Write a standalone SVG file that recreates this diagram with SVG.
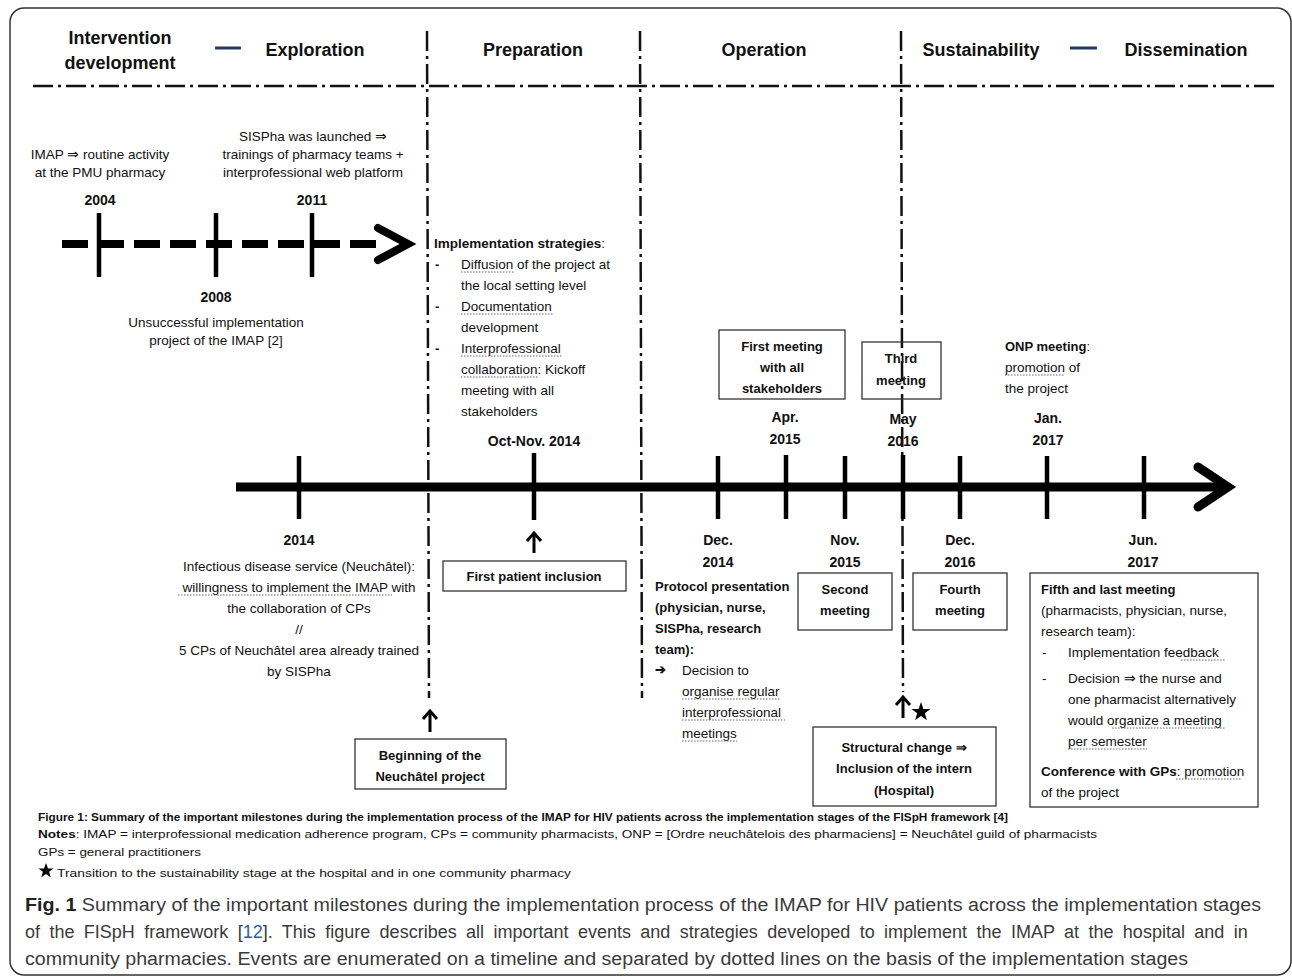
<svg xmlns="http://www.w3.org/2000/svg" width="1292" height="977" viewBox="0 0 1292 977">
<defs>
<style>
text{font-family:"Liberation Sans",Arial,sans-serif;fill:#111}
.h{font-size:18px;font-weight:bold}
.r{font-size:13.5px}
.b{font-size:13px;font-weight:bold}
.y{font-size:14px;font-weight:bold}
.c{text-anchor:middle}
.box{fill:#fff;stroke:#333;stroke-width:1.3}
.dd{fill:none;stroke:#111;stroke-width:2.5;stroke-dasharray:20 5 3 5}
.ul{stroke:#666;stroke-width:1;stroke-dasharray:1.5 1.5}
.tick{stroke:#000;stroke-width:4.5}
.arr{fill:none;stroke:#000;stroke-width:3}
.ft{font-size:11px}
.cap{font-size:18px;fill:#3a3a3a}
</style>
</defs>
<rect x="10" y="8" width="1281" height="967" rx="14" fill="#fff" stroke="#333" stroke-width="1.5"/>

<g id="header">
<text class="h c" x="120" y="44">Intervention</text>
<text class="h c" x="120" y="69">development</text>
<line x1="215" y1="48" x2="241" y2="48" stroke="#1f3864" stroke-width="3"/>
<text class="h c" x="315" y="56">Exploration</text>
<text class="h c" x="533" y="56">Preparation</text>
<text class="h c" x="764" y="56">Operation</text>
<text class="h c" x="981" y="56">Sustainability</text>
<line x1="1070" y1="48" x2="1097" y2="48" stroke="#1f3864" stroke-width="3"/>
<text class="h c" x="1186" y="56">Dissemination</text>
</g>

<g id="connectors">
<line class="dd" x1="33" y1="86" x2="1276" y2="86" stroke-width="2"/>
<line class="dd" x1="427" y1="31" x2="429" y2="698"/>
<line class="dd" x1="640" y1="31" x2="642" y2="698"/>
<line class="dd" x1="901" y1="31" x2="903" y2="692"/>
<!-- upper dashed timeline -->
<line x1="62" y1="244" x2="378" y2="244" stroke="#000" stroke-width="8" stroke-dasharray="26 10"/>
<polyline points="378,228 408,244 378,260" fill="none" stroke="#000" stroke-width="8" stroke-linecap="round" stroke-linejoin="miter"/>
<line class="tick" x1="99" y1="213" x2="99" y2="277"/>
<line class="tick" x1="216" y1="213" x2="216" y2="277"/>
<line class="tick" x1="312" y1="213" x2="312" y2="277"/>
<!-- main timeline -->
<line x1="236" y1="487" x2="1226" y2="487" stroke="#000" stroke-width="9"/>
<polyline points="1198,467 1228,487 1198,507" fill="none" stroke="#000" stroke-width="9" stroke-linecap="round"/>
<line class="tick" x1="299" y1="456" x2="299" y2="519"/>
<line class="tick" x1="534" y1="453" x2="534" y2="520"/>
<line class="tick" x1="718" y1="456" x2="718" y2="519"/>
<line class="tick" x1="786" y1="455" x2="786" y2="519"/>
<line class="tick" x1="845" y1="456" x2="845" y2="519"/>
<line class="tick" x1="903" y1="455" x2="903" y2="519"/>
<line class="tick" x1="960" y1="456" x2="960" y2="519"/>
<line class="tick" x1="1047" y1="456" x2="1047" y2="519"/>
<line class="tick" x1="1144" y1="456" x2="1144" y2="519"/>
<!-- up arrows -->
<line class="arr" x1="534" y1="553" x2="534" y2="534"/>
<polyline class="arr" points="527,541 534,533 541,541"/>
<line class="arr" x1="430" y1="732" x2="430" y2="712"/>
<polyline class="arr" points="423,719 430,711 437,719"/>
<line class="arr" x1="903" y1="718" x2="903" y2="698"/>
<polyline class="arr" points="896,705 903,697 910,705"/>
</g>

<g id="n2004">
<text class="r c" x="100" y="159">IMAP ⇒ routine activity</text>
<text class="r c" x="100" y="177">at the PMU pharmacy</text>
<text class="y c" x="100" y="205">2004</text>
</g>
<g id="n2011">
<text class="r c" x="313" y="141">SISPha was launched ⇒</text>
<text class="r c" x="313" y="159">trainings of pharmacy teams +</text>
<text class="r c" x="313" y="177">interprofessional web platform</text>
<text class="y c" x="312" y="205">2011</text>
</g>
<g id="n2008">
<text class="y c" x="216" y="302">2008</text>
<text class="r c" x="216" y="327">Unsuccessful implementation</text>
<text class="r c" x="216" y="345">project of the IMAP [2]</text>
</g>

<g id="strategies">
<text class="r" x="434" y="248"><tspan font-weight="bold">Implementation strategies</tspan>:</text>
<text class="b" x="435" y="269">-</text>
<text class="r" x="461" y="269">Diffusion of the project at</text>
<line class="ul" x1="461" y1="272" x2="514" y2="272"/>
<text class="r" x="461" y="290">the local setting level</text>
<text class="b" x="435" y="311">-</text>
<text class="r" x="461" y="311">Documentation</text>
<line class="ul" x1="461" y1="314" x2="553" y2="314"/>
<text class="r" x="461" y="332">development</text>
<text class="b" x="435" y="353">-</text>
<text class="r" x="461" y="353">Interprofessional</text>
<line class="ul" x1="461" y1="356" x2="562" y2="356"/>
<text class="r" x="461" y="374">collaboration: Kickoff</text>
<line class="ul" x1="461" y1="377" x2="538" y2="377"/>
<text class="r" x="461" y="395">meeting with all</text>
<text class="r" x="461" y="416">stakeholders</text>
<text class="y c" x="534" y="446">Oct-Nov. 2014</text>
</g>

<g id="firstMeeting">
<rect class="box" x="719" y="330" width="126" height="69"/>
<text class="b c" x="782" y="351">First meeting</text>
<text class="b c" x="782" y="372">with all</text>
<text class="b c" x="782" y="393">stakeholders</text>
<text class="y c" x="785" y="422">Apr.</text>
<text class="y c" x="785" y="444">2015</text>
</g>
<g id="thirdMeeting">
<rect class="box" x="862" y="342" width="79" height="57" style="fill:none"/>
<text class="b c" x="901" y="363">Third</text>
<text class="b c" x="901" y="385">meeting</text>
<text class="y c" x="903" y="424">May</text>
<text class="y c" x="903" y="446">2016</text>
</g>
<g id="onp">
<text class="b" x="1005" y="351">ONP meeting<tspan font-weight="normal">:</tspan></text>
<text class="r" x="1005" y="372">promotion of</text>
<line class="ul" x1="1005" y1="375" x2="1065" y2="375"/>
<text class="r" x="1005" y="393">the project</text>
<text class="y c" x="1048" y="423">Jan.</text>
<text class="y c" x="1048" y="445">2017</text>
</g>

<g id="n2014">
<text class="y c" x="299" y="545">2014</text>
<text class="r c" x="299" y="571">Infectious disease service (Neuchâtel):</text>
<text class="r c" x="299" y="592">willingness to implement the IMAP with</text>
<line class="ul" x1="178" y1="595" x2="392" y2="595"/>
<text class="r c" x="299" y="613">the collaboration of CPs</text>
<text class="r c" x="299" y="634">//</text>
<text class="r c" x="299" y="655">5 CPs of Neuchâtel area already trained</text>
<text class="r c" x="299" y="676">by SISPha</text>
</g>

<g id="firstPatient">
<rect class="box" x="443" y="561" width="183" height="30"/>
<text class="b c" x="534" y="581">First patient inclusion</text>
</g>

<g id="beginning">
<rect class="box" x="355" y="739" width="151" height="50"/>
<text class="b c" x="430" y="760">Beginning of the</text>
<text class="b c" x="430" y="781">Neuchâtel project</text>
</g>

<g id="dec2014">
<text class="y c" x="718" y="545">Dec.</text>
<text class="y c" x="718" y="567">2014</text>
<text class="b" x="655" y="591">Protocol presentation</text>
<text class="b" x="655" y="612">(physician, nurse,</text>
<text class="b" x="655" y="633">SISPha, research</text>
<text class="b" x="655" y="654">team):</text>
<text class="b" x="655" y="674" font-family="DejaVu Sans">➔</text>
<text class="r" x="682" y="675">Decision to</text>
<text class="r" x="682" y="696">organise regular</text>
<line class="ul" x1="682" y1="699" x2="780" y2="699"/>
<text class="r" x="682" y="717">interprofessional</text>
<line class="ul" x1="682" y1="720" x2="785" y2="720"/>
<text class="r" x="682" y="738">meetings</text>
<line class="ul" x1="682" y1="741" x2="737" y2="741"/>
</g>

<g id="secondMeeting">
<text class="y c" x="845" y="545">Nov.</text>
<text class="y c" x="845" y="567">2015</text>
<rect class="box" x="798" y="573" width="94" height="57"/>
<text class="b c" x="845" y="594">Second</text>
<text class="b c" x="845" y="615">meeting</text>
</g>

<g id="fourthMeeting">
<text class="y c" x="960" y="545">Dec.</text>
<text class="y c" x="960" y="567">2016</text>
<rect class="box" x="913" y="573" width="94" height="57"/>
<text class="b c" x="960" y="594">Fourth</text>
<text class="b c" x="960" y="615">meeting</text>
</g>

<g id="structural">
<polygon points="921,702 923.4,709 930.5,709 924.8,713.3 926.9,720.2 921,716 915.1,720.2 917.2,713.3 911.5,709 918.6,709" fill="#000"/>
<rect class="box" x="813" y="727" width="183" height="79"/>
<text class="b c" x="904" y="752">Structural change ⇒</text>
<text class="b c" x="904" y="773">Inclusion of the intern</text>
<text class="b c" x="904" y="795">(Hospital)</text>
</g>

<g id="fifthMeeting">
<text class="y c" x="1143" y="545">Jun.</text>
<text class="y c" x="1143" y="567">2017</text>
<rect class="box" x="1030" y="573" width="228" height="234"/>
<text class="b" x="1041" y="594">Fifth and last meeting</text>
<text class="r" x="1041" y="615">(pharmacists, physician, nurse,</text>
<text class="r" x="1041" y="636">research team):</text>
<text class="r" x="1042" y="657">-</text>
<text class="r" x="1068" y="657">Implementation feedback</text>
<line class="ul" x1="1181" y1="660" x2="1225" y2="660"/>
<text class="r" x="1042" y="683">-</text>
<text class="r" x="1068" y="683">Decision ⇒ the nurse and</text>
<text class="r" x="1068" y="704">one pharmacist alternatively</text>
<text class="r" x="1068" y="725">would organize a meeting</text>
<line class="ul" x1="1112" y1="728" x2="1225" y2="728"/>
<text class="r" x="1068" y="746">per semester</text>
<line class="ul" x1="1068" y1="749" x2="1147" y2="749"/>
<text class="r" x="1041" y="776"><tspan font-weight="bold">Conference with GPs</tspan>: promotion</text>
<line class="ul" x1="1176" y1="779" x2="1242" y2="779"/>
<text class="r" x="1041" y="797">of the project</text>
</g>

<g id="notes">
<text class="ft" x="38" y="821" font-weight="bold" textLength="970" lengthAdjust="spacingAndGlyphs">Figure 1: Summary of the important milestones during the implementation process of the IMAP for HIV patients across the implementation stages of the FISpH framework [4]</text>
<text class="ft" x="38" y="838" textLength="1059" lengthAdjust="spacingAndGlyphs"><tspan font-weight="bold">Notes</tspan>: IMAP = interprofessional medication adherence program, CPs = community pharmacists, ONP = [Ordre neuchâtelois des pharmaciens] = Neuchâtel guild of pharmacists</text>
<text class="ft" x="38" y="856" textLength="163" lengthAdjust="spacingAndGlyphs">GPs = general practitioners</text>
<polygon points="46,863 48,868.4 53.6,868.4 49.1,871.8 50.7,877.2 46,874 41.3,877.2 42.9,871.8 38.4,868.4 44,868.4" fill="#000"/>
<text class="ft" x="57" y="877" textLength="514" lengthAdjust="spacingAndGlyphs">Transition to the sustainability stage at the hospital and in one community pharmacy</text>
</g>

<g id="caption">
<text class="cap" x="25" y="911" textLength="1236" lengthAdjust="spacingAndGlyphs"><tspan font-weight="bold" fill="#222">Fig. 1</tspan> Summary of the important milestones during the implementation process of the IMAP for HIV patients across the implementation stages</text>
<text class="cap" x="25" y="938" word-spacing="4.4">of the FISpH framework [<tspan style="fill:#2a5db0">12</tspan>]. This figure describes all important events and strategies developed to implement the IMAP at the hospital and in</text>
<text class="cap" x="25" y="965" textLength="1163" lengthAdjust="spacingAndGlyphs">community pharmacies. Events are enumerated on a timeline and separated by dotted lines on the basis of the implementation stages</text>
</g>
</svg>
